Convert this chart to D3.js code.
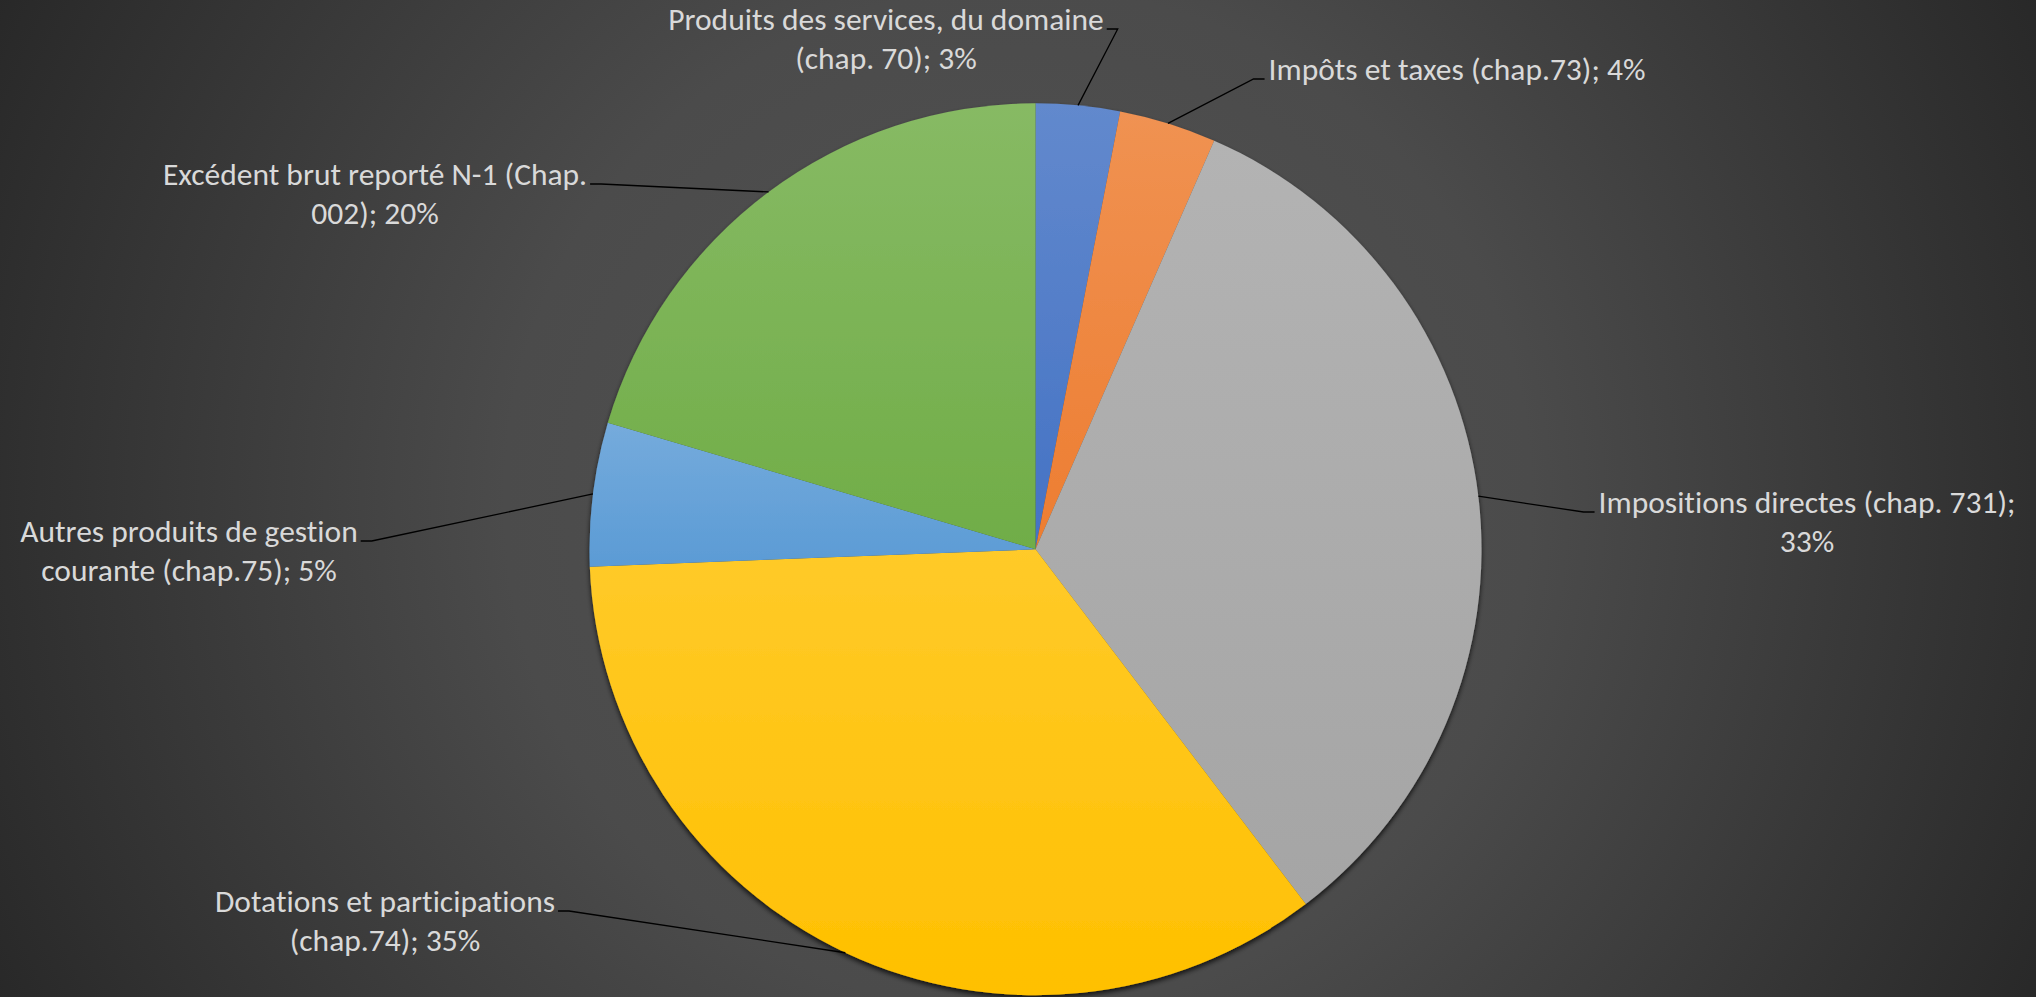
<!DOCTYPE html>
<html>
<head>
<meta charset="utf-8">
<script src="https://cdn.jsdelivr.net/npm/d3@7"></script>
<style>
    html, body { margin: 0; padding: 0; overflow: hidden; background: #3a3a3a; }
    .label { font-family: Carlito, Calibri, "Open Sans", sans-serif; font-size: 31.5px; fill: #d9d9d9; font-variant-ligatures: none; }
    .leader { fill: none; stroke: #000; stroke-width: 1.3; }
</style>
</head>
<body>
<div id="pieContainer"></div>
<script>
// slices, clockwise from 12 o'clock
var categories = [
    "Produits des services, du domaine (chap. 70)",
    "Impôts et taxes (chap.73)",
    "Impositions directes (chap. 731)",
    "Dotations et participations (chap.74)",
    "Autres produits de gestion courante (chap.75)",
    "Excédent brut reporté N-1 (Chap. 002)"
];
var shares = [3.04, 3.52, 33.08, 34.74, 5.20, 20.42];
var colors = ["#4472C4", "#ED7D31", "#A5A5A5", "#FFC000", "#5B9BD5", "#70AD47"];

// where each label sits: centre x, baseline of first line, side the leader leaves from
var labelPos = [
    { x: 886, y: 30, side: "right" },
    { x: 1457, y: 80, side: "left" },
    { x: 1807, y: 513, side: "left" },
    { x: 385, y: 912, side: "right" },
    { x: 189, y: 542, side: "right" },
    { x: 375, y: 185, side: "right" }
];

var width = 2036, height = 997;
var cx = 1035.5, cy = 549.3, radius = 446;
var lineHeight = 38.5;
var maxChars = 34;

var svg = d3.select("#pieContainer")
    .append("svg")
    .attr("width", width)
    .attr("height", height);

var defs = svg.append("defs");

// background: dark radial gradient
var bg = defs.append("radialGradient")
    .attr("id", "bgGrad")
    .attr("gradientUnits", "userSpaceOnUse")
    .attr("cx", 1018).attr("cy", 500).attr("r", 1140);
bg.append("stop").attr("offset", 0).attr("stop-color", "#535353");
bg.append("stop").attr("offset", 0.45).attr("stop-color", "#4b4b4b");
bg.append("stop").attr("offset", 1).attr("stop-color", "#282828");

svg.append("rect")
    .attr("width", width)
    .attr("height", height)
    .attr("fill", "url(#bgGrad)");

// one vertical gradient per slice, lighter at the top
colors.forEach(function (c, i) {
    var g = defs.append("linearGradient")
        .attr("id", "sliceGrad" + i)
        .attr("x1", 0).attr("y1", 0).attr("x2", 0).attr("y2", 1);
    g.append("stop").attr("offset", 0).attr("stop-color", d3.interpolateRgb(c, "#fff")(0.16));
    g.append("stop").attr("offset", 1).attr("stop-color", c);
});

var shadow = defs.append("filter")
    .attr("id", "pieShadow")
    .attr("x", "-10%").attr("y", "-10%").attr("width", "120%").attr("height", "120%");
shadow.append("feDropShadow")
    .attr("dx", 0).attr("dy", 3)
    .attr("stdDeviation", 2.5)
    .attr("flood-color", "#000")
    .attr("flood-opacity", 0.75);

var total = d3.sum(shares);
var data = categories.map(function (c, i) { return { name: c, value: shares[i], i: i }; });

var pie = d3.pie()
    .sort(null)
    .value(function (d) { return d.value; });

var arcs = pie(data);

var arc = d3.arc().innerRadius(0).outerRadius(radius);
var edgeArc = d3.arc().innerRadius(radius).outerRadius(radius);

var g = svg.append("g")
    .attr("transform", "translate(" + cx + "," + cy + ")");

g.append("g")
    .attr("filter", "url(#pieShadow)")
    .selectAll(".slice")
    .data(arcs)
    .enter()
    .append("path")
    .attr("class", "slice")
    .attr("d", arc)
    .attr("fill", function (d) { return "url(#sliceGrad" + d.data.i + ")"; });

// greedy word wrap, Excel style
function wrap(str) {
    var words = str.split(" "), lines = [], cur = "";
    words.forEach(function (w) {
        var t = cur ? cur + " " + w : w;
        if (t.length > maxChars && cur) { lines.push(cur); cur = w; }
        else cur = t;
    });
    lines.push(cur);
    return lines;
}

arcs.forEach(function (d) {
    var p = labelPos[d.data.i];
    var pct = Math.round(d.value / total * 100) + "%";
    var lines = wrap(d.data.name + "; " + pct);

    var txt = svg.append("text")
        .attr("class", "label")
        .attr("text-anchor", "middle");
    lines.forEach(function (l, k) {
        txt.append("tspan")
            .attr("x", p.x)
            .attr("y", p.y + k * lineHeight)
            .text(l);
    });

    // leader from the first line to the slice edge
    var first = txt.select("tspan").node().getComputedTextLength();
    var sx = p.side === "right" ? p.x + first / 2 + 3 : p.x - first / 2 - 4;
    var ex = p.side === "right" ? sx + 11 : sx - 11;
    var end = edgeArc.centroid(d);
    svg.append("polyline")
        .attr("class", "leader")
        .attr("points", [[sx, p.y - 1], [ex, p.y - 1], [cx + end[0], cy + end[1]]].join(" "));
});
</script>
</body>
</html>
